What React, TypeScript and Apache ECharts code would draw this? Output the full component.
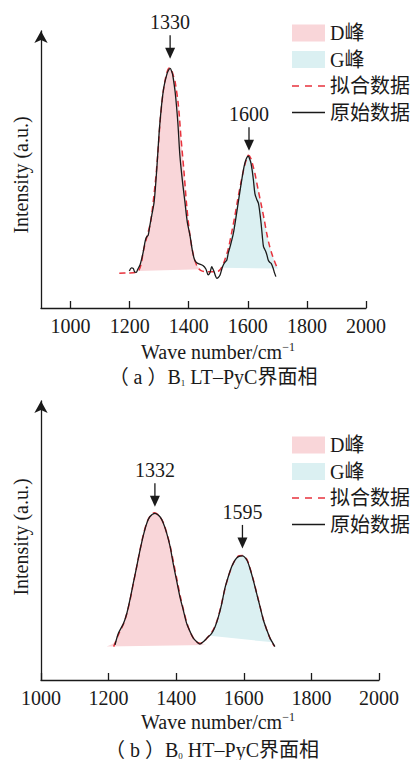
import React, { useEffect, useRef } from 'react';
import * as echarts from 'echarts';

const FONT = "'Liberation Serif', 'Noto Sans CJK SC', serif";
const INK = '#1a1a1a';
const PINK = '#f9d6d9';
const CYAN = '#dbf0f2';
const RED = '#e8323c';

const xTicks = [1000, 1200, 1400, 1600, 1800, 2000];
const legendNames = ['D峰', 'G峰', '拟合数据', '原始数据'];

// ---------- (a) B1 LT-PyC ----------
const aRaw = [
  [1199, 13.1], [1206, 14.2], [1212, 14.0], [1217, 12.8], [1222, 12.6], [1228, 13.8], [1235, 15.2],
  [1241, 17.5], [1246, 19.9], [1251, 22.8], [1255, 24.6], [1259, 25.3], [1263, 25.8], [1269, 29.5],
  [1275, 32.9], [1283, 37.6], [1292, 49.4], [1300, 62.3], [1308, 71.7], [1316, 78.2], [1325, 82.3],
  [1331, 84.0], [1337, 84.8], [1343, 83.5], [1346, 82.3], [1354, 76.4], [1363, 65.8], [1370, 54.1],
  [1379, 44.6], [1387, 37.6], [1395, 30.5], [1404, 25.8], [1413, 19.9], [1420, 17.0], [1427, 16.0],
  [1435, 15.6], [1448, 15.0], [1458, 13.8], [1466, 11.7], [1472, 12.6], [1478, 14.6], [1482, 13.8],
  [1486, 12.8], [1491, 11.2], [1495, 10.5], [1500, 10.8], [1506, 11.7], [1512, 13.8], [1517, 15.2],
  [1523, 16.2], [1529, 17.0], [1534, 19.5], [1540, 21.7], [1551, 26.4], [1562, 33.5], [1574, 41.7],
  [1585, 48.8], [1593, 52.3], [1602, 53.7], [1606, 52.8], [1611, 51.1], [1615, 48.5], [1619, 45.2],
  [1624, 40.5], [1630, 38.5], [1636, 37.0], [1641, 33.5], [1645, 29.9], [1649, 25.5], [1653, 21.7],
  [1657, 20.8], [1661, 19.9], [1665, 18.6], [1669, 17.0], [1674, 16.2], [1679, 15.8], [1686, 14.0],
  [1690, 12.5], [1695, 11.1],
];
const aFit = [
  [1165, 12.3], [1195, 12.4], [1220, 12.6], [1232, 13.5], [1240, 16.0], [1246, 19.9], [1258, 25.0],
  [1271, 30.5], [1286, 43.5], [1295, 54.1], [1303, 65.8], [1312, 75.3], [1320, 80.6], [1327, 83.6],
  [1334, 84.9], [1342, 84.0], [1348, 82.2], [1354, 80.0], [1365, 71.7], [1374, 60.0], [1384, 48.2],
  [1393, 36.4], [1404, 25.8], [1416, 18.7], [1429, 14.6], [1442, 13.2], [1460, 12.8], [1480, 12.8],
  [1500, 13.0], [1512, 14.5], [1522, 17.0], [1534, 21.0], [1545, 26.5], [1556, 32.5], [1566, 38.5],
  [1576, 44.0], [1586, 49.0], [1595, 52.5], [1602, 54.0], [1610, 53.0], [1617, 50.5], [1624, 47.6],
  [1635, 41.8], [1647, 35.8], [1656, 31.0], [1664, 26.4], [1672, 22.6], [1681, 19.3], [1690, 16.6],
  [1698, 14.6], [1703, 13.8],
];
const aDPeak = [
  [1226, 13.1], [1236, 14.5], [1246, 19.5], [1258, 25.0], [1271, 30.5], [1286, 43.5], [1295, 54.1],
  [1303, 65.8], [1312, 75.3], [1320, 80.6], [1327, 83.6], [1334, 84.9], [1342, 84.0], [1348, 82.2],
  [1354, 80.0], [1365, 71.7], [1374, 60.0], [1384, 48.2], [1393, 36.4], [1404, 25.8], [1416, 18.7],
  [1429, 14.8], [1440, 13.7],
];
const aGPeak = [
  [1512, 14.2], [1522, 17.0], [1534, 21.0], [1545, 26.5], [1556, 32.5], [1566, 38.5], [1576, 44.0],
  [1586, 49.0], [1595, 52.5], [1602, 54.0], [1610, 53.0], [1617, 50.5], [1624, 47.6], [1635, 41.8],
  [1647, 35.8], [1656, 31.0], [1664, 26.4], [1672, 22.6], [1681, 19.3], [1690, 16.6], [1698, 14.8],
  [1703, 14.0],
];
const aMarks = [[1337, 88.2], [1604, 55.6]];
const aMarkLabels = ['1330', '1600'];

// ---------- (b) B0 HT-PyC ----------
const bRaw = [
  [1219, 12.4], [1229, 16.5], [1244, 20.0], [1254, 23.6], [1263, 28.3], [1273, 34.2], [1283, 40.0],
  [1293, 45.9], [1303, 51.2], [1313, 55.4], [1322, 57.7], [1337, 58.9], [1352, 57.7], [1362, 55.4],
  [1372, 51.8], [1382, 47.1], [1391, 41.2], [1401, 35.3], [1411, 29.4], [1421, 24.7], [1431, 20.0],
  [1441, 17.1], [1451, 14.7], [1461, 13.5], [1470, 12.7], [1480, 13.5], [1490, 14.7], [1505, 16.5],
  [1515, 18.8], [1525, 22.4], [1535, 27.1], [1544, 32.4], [1554, 36.5], [1564, 40.0], [1574, 42.4],
  [1584, 43.6], [1596, 43.9], [1609, 42.4], [1618, 39.5], [1628, 35.3], [1638, 30.6], [1648, 25.9],
  [1658, 21.2], [1668, 17.7], [1678, 14.7], [1692, 11.8],
];
const bFit = [
  [1215, 11.8], [1229, 16.0], [1244, 19.8], [1254, 23.5], [1263, 28.0], [1273, 34.0], [1283, 40.0],
  [1293, 46.0], [1303, 51.5], [1313, 55.6], [1323, 58.0], [1335, 59.1], [1350, 58.0], [1362, 55.6],
  [1372, 52.0], [1382, 47.4], [1392, 41.6], [1402, 35.6], [1412, 29.6], [1422, 24.6], [1432, 20.0],
  [1442, 16.8], [1452, 14.6], [1462, 13.3], [1472, 13.0], [1482, 13.6], [1492, 14.9], [1505, 16.8],
  [1515, 19.0], [1525, 22.6], [1535, 27.4], [1545, 32.6], [1555, 36.8], [1565, 40.2], [1575, 42.6],
  [1586, 43.9], [1597, 44.0], [1609, 42.6], [1618, 39.7], [1628, 35.5], [1638, 30.8], [1648, 26.0],
  [1658, 21.3], [1668, 17.7], [1678, 14.6], [1690, 12.0],
];
const bDPeak = [
  [1194, 11.8], [1210, 12.6], [1220, 13.5], [1229, 16.0], [1244, 19.8], [1254, 23.5], [1263, 28.0],
  [1273, 34.0], [1283, 40.0], [1293, 46.0], [1303, 51.5], [1313, 55.6], [1323, 58.0], [1335, 59.1],
  [1350, 58.0], [1362, 55.6], [1372, 52.0], [1382, 47.4], [1392, 41.6], [1402, 35.6], [1412, 29.6],
  [1422, 24.6], [1432, 20.0], [1442, 16.8], [1452, 14.6], [1462, 13.3], [1472, 12.7], [1490, 12.4],
];
const bGPeak = [
  [1500, 15.6], [1515, 18.8], [1525, 22.4], [1535, 27.1], [1544, 32.4], [1554, 36.5], [1564, 40.0],
  [1574, 42.4], [1584, 43.6], [1596, 43.9], [1609, 42.4], [1618, 39.5], [1628, 35.3], [1638, 30.6],
  [1648, 25.9], [1658, 21.2], [1668, 17.7], [1678, 15.0], [1687, 13.3],
];
const bMarks = [[1337, 61.2], [1596, 46.5]];
const bMarkLabels = ['1332', '1595'];

const DASH_ICON = 'path://M0,0h7v1.6h-7z M13,0h7v1.6h-7z M26,0h7v1.6h-7z';
const SOLID_ICON = 'path://M0,0h33v1.4h-33z';

function fillSeries(name: string, pts: number[][], color: string, idx: number) {
  return {
    type: 'custom',
    name,
    xAxisIndex: idx,
    yAxisIndex: idx,
    itemStyle: { color },
    data: pts,
    z: 1,
    renderItem: (params: any, api: any) => {
      if (params.dataIndex !== 0) return null;
      const points = pts.map((p) => api.coord(p));
      return { type: 'polygon', shape: { points }, style: { fill: color } };
    },
  };
}

function markSeries(marks: number[][], labels: string[], idx: number) {
  return {
    type: 'custom',
    name: 'marks' + idx,
    xAxisIndex: idx,
    yAxisIndex: idx,
    data: marks,
    z: 5,
    renderItem: (params: any, api: any) => {
      const p = api.coord([api.value(0), api.value(1)]);
      return {
        type: 'group',
        children: [
          { type: 'line', shape: { x1: p[0], y1: p[1] - 23.5, x2: p[0], y2: p[1] - 8 }, style: { stroke: INK, lineWidth: 1.3 } },
          { type: 'polygon', shape: { points: [[p[0] - 5, p[1] - 11], [p[0] + 5, p[1] - 11], [p[0], p[1]]] }, style: { fill: INK } },
          {
            type: 'text', x: p[0], y: p[1] - 36.5,
            style: { text: labels[params.dataIndex], fontSize: 20, fontFamily: FONT, fill: INK, align: 'center', verticalAlign: 'middle' },
          },
        ],
      };
    },
  };
}

function lineSeries(name: string, pts: number[][], idx: number, dashed: boolean) {
  return {
    type: 'line',
    name,
    xAxisIndex: idx,
    yAxisIndex: idx,
    data: pts,
    symbol: 'none',
    smooth: 0.3,
    z: dashed ? 3 : 4,
    lineStyle: dashed
      ? { color: RED, width: 1.5, type: [6, 4] }
      : { color: INK, width: 1.3 },
    itemStyle: { color: dashed ? RED : INK },
  };
}

function xAxis(idx: number, min: number) {
  return {
    type: 'value',
    gridIndex: idx,
    min,
    max: 2000,
    axisLine: { show: true, lineStyle: { color: INK, width: 1.3 } },
    axisTick: { show: true, inside: true, length: 7, customValues: xTicks, lineStyle: { color: INK, width: 1.3 } },
    axisLabel: {
      customValues: xTicks, fontSize: 20, fontFamily: FONT, color: INK, margin: 8,
      formatter: (v: number) => String(v),
    },
    splitLine: { show: false },
  };
}

function yAxis(idx: number, max: number) {
  return {
    type: 'value',
    gridIndex: idx,
    min: 0,
    max,
    axisLine: { show: true, symbol: ['none', 'arrow'], symbolSize: [10, 12], lineStyle: { color: INK, width: 1.3 } },
    axisTick: { show: false },
    axisLabel: { show: false },
    splitLine: { show: false },
  };
}

function legend(top: number) {
  return {
    orient: 'vertical',
    left: 292,
    top,
    padding: 0,
    itemWidth: 33,
    itemHeight: 17,
    itemGap: 6.5,
    selectedMode: false,
    symbolKeepAspect: true,
    textStyle: { fontSize: 20, fontFamily: FONT, color: INK, lineHeight: 20 },
    data: [
      { name: legendNames[0], icon: 'rect' },
      { name: legendNames[1], icon: 'rect' },
      { name: legendNames[2], icon: DASH_ICON },
      { name: legendNames[3], icon: SOLID_ICON },
    ],
  };
}

const richBase = {
  n: { fontSize: 20, fontFamily: FONT, fill: INK, lineHeight: 22 },
  sup: { fontSize: 12, fontFamily: FONT, fill: INK, verticalAlign: 'top', lineHeight: 12 },
  sub: { fontSize: 9, fontFamily: FONT, fill: INK, verticalAlign: 'bottom', lineHeight: 9 },
};

function textEl(x: number, y: number, text: string, rotation = 0) {
  return {
    type: 'text',
    x,
    y,
    rotation,
    style: { text, rich: richBase, fontSize: 20, fontFamily: FONT, fill: INK, align: 'center', verticalAlign: 'middle' },
  };
}

export default function App() {
  const ref = useRef<HTMLDivElement>(null);
  useEffect(() => {
    if (!ref.current) return;
    const chart = echarts.init(ref.current, null, { renderer: 'svg' });
    chart.setOption({
      animation: false,
      backgroundColor: '#ffffff',
      grid: [
        { left: 41, top: 31, width: 325, height: 277 },
        { left: 41, top: 401, width: 338, height: 279 },
      ],
      xAxis: [xAxis(0, 900), xAxis(1, 1000)],
      yAxis: [yAxis(0, 98), yAxis(1, 98.6)],
      legend: [legend(23), legend(435)],
      series: [
        fillSeries(legendNames[0], aDPeak, PINK, 0),
        fillSeries(legendNames[1], aGPeak, CYAN, 0),
        lineSeries(legendNames[2], aFit, 0, true),
        lineSeries(legendNames[3], aRaw, 0, false),
        markSeries(aMarks, aMarkLabels, 0),
        fillSeries(legendNames[0], bDPeak, PINK, 1),
        fillSeries(legendNames[1], bGPeak, CYAN, 1),
        lineSeries(legendNames[2], bFit, 1, true),
        lineSeries(legendNames[3], bRaw, 1, false),
        markSeries(bMarks, bMarkLabels, 1),
      ],
      graphic: [
        textEl(218, 352, '{n|Wave number/cm}{sup|−1}'),
        textEl(213, 377, '{n|（ a ）B}{sub|1}{n| LT–PyC界面相}'),
        textEl(21, 175, 'Intensity (a.u.)', Math.PI / 2),
        textEl(218, 722, '{n|Wave number/cm}{sup|−1}'),
        textEl(212, 750, '{n|（ b ）B}{sub|0}{n| HT–PyC界面相}'),
        textEl(21, 537, 'Intensity (a.u.)', Math.PI / 2),
      ],
    });
    return () => chart.dispose();
  }, []);
  return <div ref={ref} style={{ position: 'absolute', left: 0, top: 0, width: 415, height: 760 }} />;
}
